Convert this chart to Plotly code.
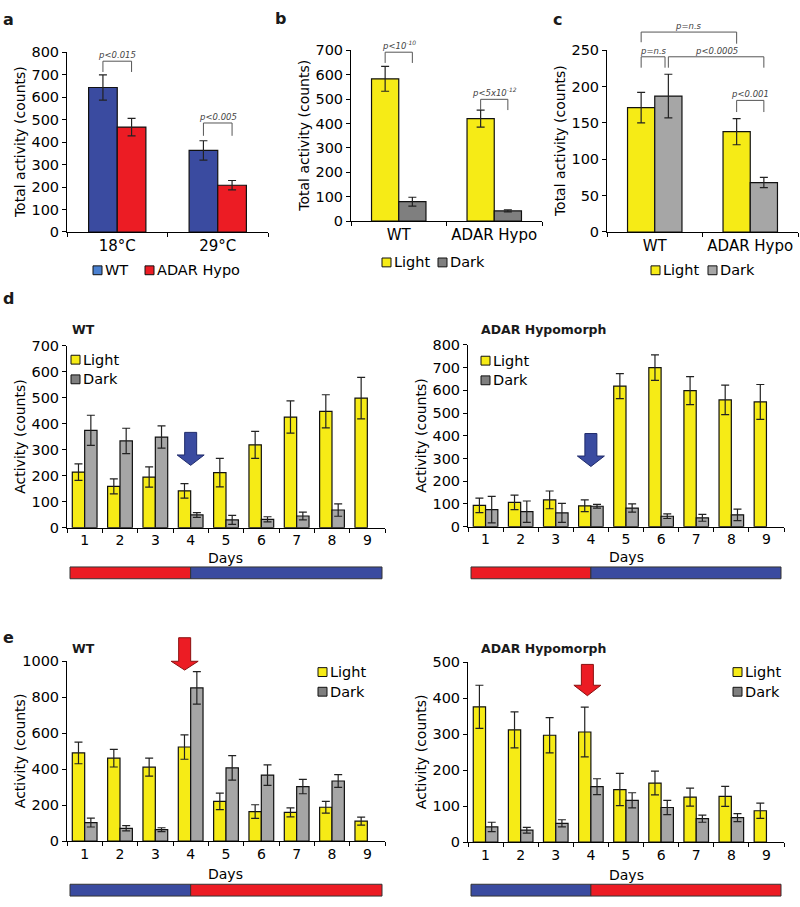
import plotly.graph_objects as go

W, H = 800, 907
FONT = "DejaVu Sans"

# ---------------- data ----------------
temps = ["18°C", "29°C"]
wt_temp = [643, 363]
wt_temp_err = [56, 43]
hypo_temp = [467, 208]
hypo_temp_err = [39, 21]

genotypes = ["WT", "ADAR Hypo"]
b_light = [583, 420]
b_light_err = [51, 35]
b_dark = [80, 42]
b_dark_err = [18, 4]

c_light = [171, 138]
c_light_err = [21, 18]
c_dark = [187, 68]
c_dark_err = [30, 7]

days = ["1", "2", "3", "4", "5", "6", "7", "8", "9"]
d_wt_light = [214, 159, 195, 142, 212, 319, 426, 448, 499]
d_wt_light_err = [32, 29, 39, 28, 55, 52, 62, 64, 80]
d_wt_dark = [375, 334, 349, 49, 30, 32, 45, 68, None]
d_wt_dark_err = [58, 49, 43, 9, 17, 10, 15, 24, None]

d_hy_light = [94, 107, 118, 92, 619, 700, 599, 558, 549]
d_hy_light_err = [32, 32, 39, 26, 55, 56, 62, 65, 77]
d_hy_dark = [75, 66, 61, 90, 82, 46, 39, 52, None]
d_hy_dark_err = [58, 47, 42, 8, 18, 10, 15, 25, None]

e_wt_light = [490, 461, 411, 523, 221, 164, 159, 188, 111]
e_wt_light_err = [60, 49, 50, 68, 46, 38, 25, 33, 22]
e_wt_dark = [103, 71, 63, 852, 407, 367, 303, 334, None]
e_wt_dark_err = [25, 15, 11, 90, 68, 57, 40, 36, None]

e_hy_light = [376, 312, 297, 306, 146, 164, 125, 127, 87]
e_hy_light_err = [60, 50, 49, 69, 45, 33, 25, 28, 21]
e_hy_dark = [42, 33, 52, 154, 116, 96, 65, 68, None]
e_hy_dark_err = [13, 8, 10, 22, 21, 20, 10, 11, None]

a_pvals = ["p&lt;0.015", "p&lt;0.005"]
b_pvals = ["p&lt;10<sup>-10</sup>", "p&lt;5x10<sup>-12</sup>"]
c_pvals = ["p=n.s", "p=n.s", "p&lt;0.0005", "p&lt;0.001"]

# ---------------- style ----------------
BLUE = "#3A4BA0"
RED = "#EC1C24"
YELLOW = "#F6EB16"
GRAY_B = "#7F7F7F"
GRAY = "#A6A6A6"
LEG_BLUE = "#4A80D0"
EDGE = "#111111"
TICK = 14.5

PANELS = {
    "a":   dict(n=1, cats=temps,     x0=67,  x1=268, y0=45,  y1=228, ymax=800,  dtick=100, w=0.285),
    "b":   dict(n=2, cats=genotypes, x0=351, x1=542, y0=43,  y1=217, ymax=700,  dtick=100, w=0.285),
    "c":   dict(n=3, cats=genotypes, x0=607, x1=798, y0=43,  y1=228, ymax=250,  dtick=50,  w=0.285),
    "dwt": dict(n=4, cats=days,      x0=67,  x1=385, y0=344, y1=529, ymax=700,  dtick=100, w=0.35),
    "dhy": dict(n=5, cats=days,      x0=468, x1=784, y0=343, y1=528, ymax=800,  dtick=100, w=0.35),
    "ewt": dict(n=6, cats=days,      x0=67,  x1=385, y0=665, y1=848, ymax=1000, dtick=200, w=0.35),
    "ehy": dict(n=7, cats=days,      x0=468, x1=784, y0=666, y1=849, ymax=500,  dtick=100, w=0.35),
}


def xp(key, pos):
    P = PANELS[key]
    return (P["x0"] + (pos + 0.5) * (P["x1"] - P["x0"]) / len(P["cats"])) / W


def yp(key, val):
    P = PANELS[key]
    return 1 - (P["y1"] - val / P["ymax"] * (P["y1"] - P["y0"])) / H


fig = go.Figure()
shapes = []
annotations = []


def sfx(n):
    return "" if n == 1 else str(n)


def add_pair(key, v1, e1, v2, e2, c1, c2, n1, n2):
    P = PANELS[key]
    s = sfx(P["n"])
    w = P["w"]
    for vals, errs, col, name, off in ((v1, e1, c1, n1, -w), (v2, e2, c2, n2, 0)):
        fig.add_trace(go.Bar(
            x=P["cats"], y=vals, name=name, offset=off, width=w,
            marker=dict(color=col, line=dict(color=EDGE, width=1.2)),
            error_y=dict(type="data", array=errs, color="#222222", thickness=1.2, width=4),
            xaxis="x" + s, yaxis="y" + s, showlegend=False,
        ))


add_pair("a", wt_temp, wt_temp_err, hypo_temp, hypo_temp_err, BLUE, RED, "WT", "ADAR Hypo")
add_pair("b", b_light, b_light_err, b_dark, b_dark_err, YELLOW, GRAY_B, "Light", "Dark")
add_pair("c", c_light, c_light_err, c_dark, c_dark_err, YELLOW, GRAY, "Light", "Dark")
add_pair("dwt", d_wt_light, d_wt_light_err, d_wt_dark, d_wt_dark_err, YELLOW, GRAY, "Light", "Dark")
add_pair("dhy", d_hy_light, d_hy_light_err, d_hy_dark, d_hy_dark_err, YELLOW, GRAY, "Light", "Dark")
add_pair("ewt", e_wt_light, e_wt_light_err, e_wt_dark, e_wt_dark_err, YELLOW, GRAY, "Light", "Dark")
add_pair("ehy", e_hy_light, e_hy_light_err, e_hy_dark, e_hy_dark_err, YELLOW, GRAY, "Light", "Dark")

layout = dict(
    width=W, height=H, margin=dict(l=0, r=0, t=0, b=0),
    paper_bgcolor="white", plot_bgcolor="white",
    barmode="overlay", showlegend=False,
    font=dict(family=FONT, size=13.5, color="black"),
)

for key, P in PANELS.items():
    s = sfx(P["n"])
    big = key in ("a", "b", "c")
    layout["xaxis" + s] = dict(
        domain=[P["x0"] / W, P["x1"] / W], anchor="y" + s, type="category",
        categoryorder="array", categoryarray=P["cats"],
        range=[-0.5, len(P["cats"]) - 0.5],
        showline=True, linecolor="black", linewidth=1,
        ticks="outside", tickson="boundaries", ticklen=4, tickcolor="black",
        tickfont=dict(size=TICK + 0.5 if big else 14), showgrid=False, zeroline=False,
    )
    layout["yaxis" + s] = dict(
        domain=[1 - P["y1"] / H, 1 - P["y0"] / H], anchor="x" + s,
        range=[0, P["ymax"]], dtick=P["dtick"], tick0=0,
        showline=True, linecolor="black", linewidth=1,
        ticks="outside", ticklen=4, tickcolor="black",
        tickfont=dict(size=TICK), showgrid=False, zeroline=False,
    )
    # y-axis title
    title = "Total activity (counts)" if big else "Activity (counts)"
    annotations.append(dict(
        text=title, xref="paper", yref="paper", textangle=-90,
        x=(P["x0"] - 47) / W, y=1 - (P["y0"] + P["y1"]) / 2 / H,
        xanchor="center", yanchor="middle", showarrow=False, font=dict(size=14),
    ))
    if not big:
        dy = 31 if key.startswith("d") else 34
        annotations.append(dict(
            text="Days", xref="paper", yref="paper",
            x=(P["x0"] + P["x1"]) / 2 / W, y=1 - (P["y1"] + dy) / H,
            xanchor="center", yanchor="middle", showarrow=False, font=dict(size=14),
        ))


# ---------- brackets with p-values ----------
def bracket(key, xa, xb, ytop, ya, yb, text):
    x1, x2 = xp(key, xa), xp(key, xb)
    t = yp(key, ytop)
    shapes.append(dict(
        type="path", xref="paper", yref="paper",
        path=f"M{x1},{yp(key, ya)} L{x1},{t} L{x2},{t} L{x2},{yp(key, yb)}",
        line=dict(color="#555555", width=1),
    ))
    annotations.append(dict(
        text="<i>" + text + "</i>", xref="paper", yref="paper",
        x=(x1 + x2) / 2, y=t, xanchor="center", yanchor="bottom", yshift=-1,
        showarrow=False, font=dict(size=8.5, color="#444444"),
    ))


wa = PANELS["a"]["w"] / 2
bracket("a", 0 - wa, 0 + wa, 760, 712, 712, a_pvals[0])
bracket("a", 1 - wa, 1 + wa, 485, 428, 428, a_pvals[1])
bracket("b", 0 - wa, 0 + wa, 692, 648, 648, b_pvals[0])
bracket("b", 1 - wa, 1 + wa, 499, 455, 455, b_pvals[1])
bracket("c", 0 - wa, 1 - wa, 275, 261, 259, c_pvals[0])
bracket("c", 0 - wa, 0 + wa - 0.035, 241, 226, 226, c_pvals[1])
bracket("c", 0 + wa, 1 + wa, 241, 226, 226, c_pvals[2])
bracket("c", 1 - wa, 1 + wa, 181, 165, 165, c_pvals[3])


# ---------- block arrows ----------
def block_arrow(key, pos, ytop, yhead, ytip, color, edge):
    cx = xp(key, pos)
    s, h = 6 / W, 13.5 / W
    yt, yh, yk = yp(key, ytop), yp(key, yhead), yp(key, ytip)
    path = (f"M{cx - s},{yt} L{cx + s},{yt} L{cx + s},{yh} L{cx + h},{yh} "
            f"L{cx},{yk} L{cx - h},{yh} L{cx - s},{yh} Z")
    shapes.append(dict(type="path", xref="paper", yref="paper", path=path,
                       fillcolor=color, line=dict(color=edge, width=1)))


block_arrow("dwt", 3.0, 367, 280, 240, BLUE, "#1E2A6A")
block_arrow("dhy", 3.0, 410, 311, 265, BLUE, "#1E2A6A")
block_arrow("ewt", 2.83, 1131, 1000, 951, RED, "#8A1010")
block_arrow("ehy", 2.9, 494, 436, 407, RED, "#8A1010")


# ---------- temperature strips ----------
def strip(key, ytop, first, second):
    P = PANELS[key]
    xa, xb = (P["x0"] + 3) / W, (P["x1"] - 3) / W
    xm = xp(key, 3)
    y0, y1 = 1 - (ytop + 12) / H, 1 - ytop / H
    for a, b, col in ((xa, xm, first), (xm, xb, second)):
        shapes.append(dict(type="rect", xref="paper", yref="paper", x0=a, x1=b, y0=y0, y1=y1,
                           fillcolor=col, line=dict(color="#333333", width=1)))


strip("dwt", 569, RED, BLUE)
strip("dhy", 569, RED, BLUE)
strip("ewt", 892, BLUE, RED)
strip("ehy", 892, BLUE, RED)


# ---------- manual legends ----------
def legend_item(x, yc, color, text, size=14.5):
    shapes.append(dict(type="rect", xref="paper", yref="paper",
                       x0=x / W, x1=(x + 9) / W, y0=1 - (yc + 4.5) / H, y1=1 - (yc - 4.5) / H,
                       fillcolor=color, line=dict(color=EDGE, width=1)))
    annotations.append(dict(text=text, xref="paper", yref="paper", x=(x + 10) / W, y=1 - yc / H,
                            xanchor="left", yanchor="middle", showarrow=False, font=dict(size=size)))


legend_item(93, 267, LEG_BLUE, "WT")
legend_item(145, 267, RED, "ADAR Hypo")
legend_item(382, 259, YELLOW, "Light")
legend_item(438, 259, GRAY_B, "Dark")
legend_item(651, 267, YELLOW, "Light")
legend_item(708, 267, GRAY, "Dark")
for lx, ly in ((71, 358), (481, 359), (318, 676), (733, 676)):
    legend_item(lx, ly, YELLOW, "Light")
    legend_item(lx, ly + 20, GRAY_B, "Dark")


# ---------- titles and panel letters ----------
def label(text, x, yc, size, anchor="left"):
    annotations.append(dict(text=text, xref="paper", yref="paper", x=x / W, y=1 - yc / H,
                            xanchor=anchor, yanchor="middle", showarrow=False,
                            font=dict(size=size, color="#1a1a1a")))


label("<b>WT</b>", 70, 327, 12.5)
label("<b>ADAR Hypomorph</b>", 479, 327, 12.5)
label("<b>WT</b>", 70, 652, 12.5)
label("<b>ADAR Hypomorph</b>", 479, 652, 12.5)
label("<b>a</b>", 1, 12, 16)
label("<b>b</b>", 273, 11, 16)
label("<b>c</b>", 551, 12, 16)
label("<b>d</b>", 1, 296, 16)
label("<b>e</b>", 1, 641, 16)

layout["shapes"] = shapes
layout["annotations"] = annotations
fig.update_layout(**layout)
fig.write_html(
    "out.html",
    config={"displayModeBar": False},
    post_script="document.body.style.margin='0px';"
                "document.documentElement.style.overflow='hidden';",
)
